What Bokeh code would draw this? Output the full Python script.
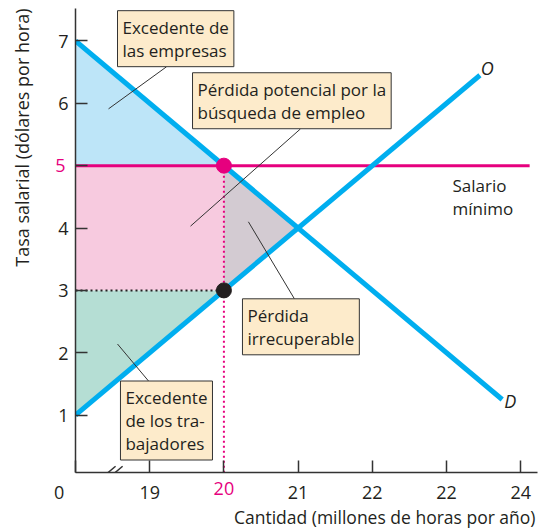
from bokeh.plotting import figure
from bokeh.models import Label, Arrow, FixedTicker, LinearAxis, Title
from bokeh.embed import file_html
from bokeh.resources import INLINE

# ---------------- data ----------------
demand_x = [18, 23.75]
demand_y = [7, 1.25]
supply_x = [18, 23.45]
supply_y = [1, 6.45]
min_wage = 5
min_wage_x_end = 24.12
q_min = 20            # quantity employed at the minimum wage
supply_price = 3      # wage workers would accept for q_min
equilibrium = (21, 4)
x_start = 18          # axis origin (broken axis, labelled 0)
y_ticks = [1, 2, 3, 4, 5, 6, 7]
x_ticks = [18, 19, 20, 21, 22, 23, 24]
x_tick_labels = ["0", "19", "20", "21", "22", "22", "24"]

CYAN = "#00AEEF"
MAGENTA = "#E6007E"
TXT = "#231F20"
AX = "#333333"
FONT = "Open Sans"
W, H = 538, 528

p = figure(width=W, height=H, x_range=(18, 24.226), y_range=(0.08, 7.52),
           output_backend="svg", toolbar_location=None,
           min_border_left=75, min_border_right=1, min_border_top=8, min_border_bottom=56)
p.grid.visible = False
p.outline_line_color = None
p.background_fill_color = "white"

# ---------------- areas ----------------
p.patch([x_start, x_start, q_min], [demand_y[0], min_wage, min_wage], color="#BDE5F8", line_width=0)
p.patch([x_start, q_min, q_min, x_start], [min_wage, min_wage, supply_price, supply_price],
        color="#F7CADF", line_width=0)
p.patch([q_min, equilibrium[0], q_min], [min_wage, equilibrium[1], supply_price],
        color="#D3CBD2", line_width=0)
p.patch([x_start, q_min, x_start], [supply_price, supply_price, supply_y[0]],
        color="#B5DED4", line_width=0)

p.line([x_start, q_min], [supply_price, supply_price], line_color=TXT, line_width=2, line_dash="2 3")
p.line([q_min, q_min], [min_wage, 0.0], line_color=MAGENTA, line_width=2, line_dash="2 3")
p.line([x_start, min_wage_x_end], [min_wage, min_wage], line_color=MAGENTA, line_width=3)
p.line(demand_x, demand_y, line_color=CYAN, line_width=5)
p.line(supply_x, supply_y, line_color=CYAN, line_width=5)
p.scatter([q_min], [min_wage], size=15, color=MAGENTA)
p.scatter([q_min], [supply_price], size=15, color=TXT)

# ---------------- axes ----------------
def style(ax, size="18px"):
    ax.axis_line_color = AX
    ax.axis_line_width = 1.5
    ax.major_tick_line_color = AX
    ax.major_tick_line_width = 1.5
    ax.major_tick_in = 12
    ax.major_tick_out = 0
    ax.minor_tick_line_color = None
    ax.major_label_text_font = FONT
    ax.major_label_text_font_size = size
    ax.major_label_text_color = TXT

style(p.xaxis[0])
style(p.yaxis[0])
pad0 = "\u00a0" * 7
p.xaxis.ticker = FixedTicker(ticks=x_ticks)
p.xaxis.major_label_overrides = {t: (" " if t == q_min else (l + pad0 if t == x_start else l))
                                 for t, l in zip(x_ticks, x_tick_labels)}
p.xaxis.major_label_standoff = 7
p.yaxis.ticker = FixedTicker(ticks=y_ticks)
p.yaxis.major_label_overrides = {t: (" " if t == min_wage else str(t)) for t in y_ticks}
p.yaxis.major_label_standoff = 7

# highlighted (magenta) tick labels on extra axes pulled back onto the main label row
xa2 = LinearAxis(ticker=FixedTicker(ticks=[q_min]), major_label_overrides={q_min: str(q_min)})
style(xa2)
xa2.axis_line_color = None
xa2.major_tick_line_color = None
xa2.major_label_text_color = MAGENTA
xa2.major_label_standoff = -25
p.add_layout(xa2, "below")

ya2 = LinearAxis(ticker=FixedTicker(ticks=[min_wage]), major_label_overrides={min_wage: str(min_wage)})
style(ya2)
ya2.axis_line_color = None
ya2.major_tick_line_color = None
ya2.major_label_text_color = MAGENTA
ya2.major_label_standoff = -10
ya2.axis_label = "\u00a0"          # invisible spacer before the axis title
ya2.axis_label_text_font_size = "1px"
ya2.axis_label_standoff = 15
p.add_layout(ya2, "left")

# axis titles
p.add_layout(Title(text="Cantidad (millones de horas por año)", align="right", text_font=FONT,
                   text_font_size="17.5px", text_font_style="normal", text_color=TXT,
                   standoff=-7, offset=2), "below")
p.add_layout(Title(text="Tasa salarial (dólares por hora)", align="right", text_font=FONT,
                   text_font_size="18px", text_font_style="normal", text_color=TXT, standoff=0),
             "left")

# axis break marks
for dx in (0, 0.095):
    p.add_layout(Arrow(end=None, x_start=18.32 + dx, y_start=-0.04, x_end=18.54 + dx, y_end=0.18,
                       line_color=AX, line_width=1.5))

def lab(x, y, text, **kw):
    opts = dict(text_font=FONT, text_font_size="18px", text_color=TXT)
    opts.update(kw)
    p.add_layout(Label(x=x, y=y, text=text, **opts))

# curve labels
lab(23.55, 6.57, "O", text_font_style="italic", text_align="center", text_baseline="middle")
lab(23.86, 1.22, "D", text_font_style="italic", text_align="center", text_baseline="middle")
lab(23.08, 4.87, "Salario\nmínimo", text_align="left", text_baseline="top", text_font_size="17px",
    text_line_height=1.0)

box = dict(text_align="left", text_baseline="top", text_font_size="17px", text_line_height=1.0,
           background_fill_color="#FDEBCB", border_line_color=AX, border_line_width=1,
           padding=5)
lab(18.566, 7.485, "Excedente de\nlas empresas", **box)
lab(19.577, 6.49, "Pérdida potencial por la\nbúsqueda de empleo", **box)
lab(20.25, 2.865, "Pérdida\nirrecuperable", **box)
lab(18.606, 1.547, "Excedente\nde los tra-\nbajadores", **box)

for (x0, y0, x1, y1) in [(19.226, 6.585, 18.445, 5.911),
                         (21.032, 5.59, 19.55, 4.03),
                         (20.95, 2.865, 20.33, 4.10),
                         (18.984, 1.547, 18.566, 2.14)]:
    p.segment(x0=[x0], y0=[y0], x1=[x1], y1=[y1], line_color=AX, line_width=1)

open("out.html", "w").write(file_html(p, INLINE))
